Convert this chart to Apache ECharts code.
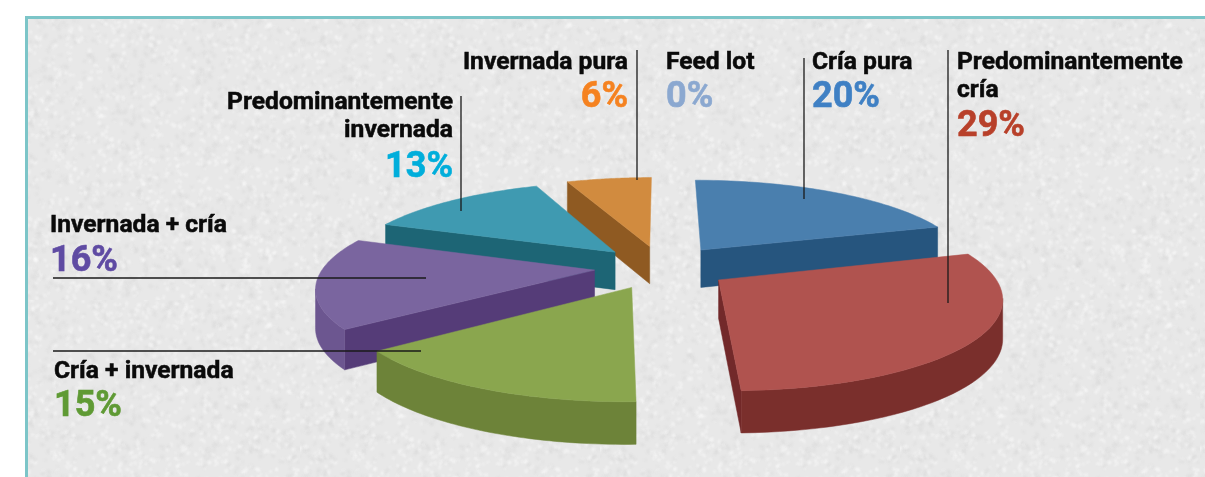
<!DOCTYPE html>
<html>
<head>
<meta charset="utf-8">
<title>Pie</title>
<script src="https://cdn.jsdelivr.net/npm/echarts@6/dist/echarts.min.js"></script>
<style>
html, body { margin: 0; padding: 0; background: #fff; overflow: hidden; }
#main { width: 1205px; height: 477px; }
</style>
</head>
<body>
<div id="main"></div>
<script>
var categories = ['Cría pura', 'Predominantemente\ncría', 'Cría + invernada', 'Invernada + cría', 'Predominantemente\ninvernada', 'Invernada pura', 'Feed lot'];
var shares = [20, 29, 15, 16, 13, 6, 0];

var topColors = ['#4a7fae', '#b0534f', '#8aa64e', '#7a659f', '#3f9ab1', '#d18b3f', '#8ba5cc'];
var rimColors = ['#2a5c86', '#7a2f2c', '#6d8339', '#6c5690', '#1f6b7d', '#8f5a22', '#8ba5cc'];
var sideColors = ['#26557e', '#72292a', '#6d8339', '#553c78', '#1d6575', '#8f5a22', '#8ba5cc'];
var textColors = ['#3f80c4', '#b8402a', '#5f9a34', '#5f4ba3', '#00aedb', '#f58220', '#8ba8d0'];

// posicion de cada rotulo: x, y de la primera linea, alineacion, y del porcentaje
var labelPos = [
	[812, 63, 'left', 98],
	[957, 63, 'left', 127],
	[54, 372, 'left', 407],
	[50, 226, 'left', 262],
	[453, 103, 'right', 168],
	[628, 63, 'right', 98],
	[666, 63, 'left', 98]
];
var leaderLines = [
	[637, 50, 637, 180],
	[804, 58, 804, 199],
	[948, 50, 948, 303],
	[461, 96, 461, 211],
	[53, 278, 426, 278],
	[53, 351, 421, 351]
];

// proyeccion de la torta
var centerX = 662, centerY = 267, scaleX = 271, scaleY = 87;
var persp = 0.17, explode = 0.25, depth = 38, arcSteps = 48;
var lineHeight = 28;

function project(x, z) {
	var s = 1 / (1 - persp * z);
	return [centerX + x * scaleX * s, centerY + z * scaleY * s, s];
}

function down(p) {
	return [p[0], p[1] + depth * Math.sqrt(p[2])];
}

function wallPoints(list) {
	var pts = [];
	for (var i = 0; i < list.length; i++) {
		pts.push([list[i][0], list[i][1]]);
	}
	for (var j = list.length - 1; j >= 0; j--) {
		pts.push(down(list[j]));
	}
	return pts;
}

function sliceAngles() {
	var total = 0, start = 0, res = [];
	for (var i = 0; i < shares.length; i++) {
		total += shares[i];
	}
	for (var k = 0; k < shares.length; k++) {
		var a = shares[k] / total * Math.PI * 2;
		res.push([start, start + a]);
		start += a;
	}
	return res;
}

var angles = sliceAngles();
// orden de pintado: de atras hacia adelante
var depthRank = angles.map(function(a, i) {
	return { i: i, z: -Math.cos((a[0] + a[1]) / 2) };
}).sort(function(p, q) {
	return p.z - q.z;
}).reduce(function(acc, item, pos) {
	acc[item.i] = pos;
	return acc;
}, {});

function renderSlice(params, api) {
	var idx = api.value(1);
	if (api.value(0) <= 0) {
		return { type: 'group', children: [] };
	}
	var a0 = angles[idx][0], a1 = angles[idx][1];
	var mid = (a0 + a1) / 2;
	var ox = explode * Math.sin(mid), oz = -explode * Math.cos(mid);
	var apex = project(ox, oz);
	var arc = [];
	for (var i = 0; i <= arcSteps; i++) {
		var t = a0 + (a1 - a0) * i / arcSteps;
		arc.push(project(ox + Math.sin(t), oz - Math.cos(t)));
	}
	var base = depthRank[idx] * 10 + 1;
	var children = [];

	function addWall(list, color) {
		children.push({
			type: 'polygon',
			shape: { points: wallPoints(list) },
			style: { fill: color, stroke: color, lineWidth: 0.5 },
			z2: base
		});
	}
	// solo se ven las caras cuyo borde va de derecha a izquierda
	if (arc[0][0] < apex[0] - 8) {
		addWall([apex, arc[0]], sideColors[idx]);
	}
	if (apex[0] < arc[arcSteps][0] - 8) {
		addWall([arc[arcSteps], apex], sideColors[idx]);
	}
	var rim = [];
	for (var k = 0; k < arcSteps; k++) {
		if (arc[k + 1][0] < arc[k][0]) {
			if (!rim.length) {
				rim.push(arc[k]);
			}
			rim.push(arc[k + 1]);
		}
	}
	if (rim.length) {
		addWall(rim, rimColors[idx]);
	}

	var top = [[apex[0], apex[1]]];
	for (var m = 0; m < arc.length; m++) {
		top.push([arc[m][0], arc[m][1]]);
	}
	children.push({
		type: 'polygon',
		shape: { points: top },
		style: { fill: topColors[idx], stroke: topColors[idx], lineWidth: 0.5 },
		z2: base + 1
	});
	return { type: 'group', children: children };
}

// textura del fondo
function noiseTile() {
	var size = 300;
	var c = document.createElement('canvas');
	c.width = size;
	c.height = size;
	var ctx = c.getContext('2d');
	ctx.fillStyle = '#e8e8e8';
	ctx.fillRect(0, 0, size, size);
	var seed = 12345;
	function next() {
		seed = (seed * 1103515245 + 12345) % 2147483648;
		return seed / 2147483648;
	}
	ctx.filter = 'blur(1px)';
	for (var i = 0; i < 2600; i++) {
		var x = next() * size, y = next() * size;
		ctx.fillStyle = next() > 0.45 ? 'rgba(250,250,250,0.6)' : 'rgba(216,216,216,0.55)';
		ctx.beginPath();
		ctx.ellipse(x, y, 1 + next() * 2, 0.8 + next() * 1.2, next() * 3.14, 0, Math.PI * 2);
		ctx.fill();
	}
	return c;
}

function buildGraphics() {
	var items = [{
		type: 'rect',
		shape: { x: 26.5, y: 17.5, width: 1300, height: 600 },
		style: { fill: { type: 'pattern', image: noiseTile(), repeat: 'repeat' }, stroke: '#7cc5c8', lineWidth: 3 },
		z: -10,
		silent: true
	}];
	for (var i = 0; i < leaderLines.length; i++) {
		var l = leaderLines[i];
		items.push({
			type: 'line',
			shape: { x1: l[0], y1: l[1], x2: l[2], y2: l[3] },
			style: { stroke: '#1a1a1a', lineWidth: 1.3 },
			z: 20
		});
	}
	for (var k = 0; k < categories.length; k++) {
		var p = labelPos[k];
		items.push({
			type: 'text',
			x: p[0],
			y: p[1] - lineHeight / 2,
			scaleX: 1.07,
			z: 21,
			style: {
				text: categories[k],
				fill: '#0a0a0a',
				stroke: '#0a0a0a',
				lineWidth: 0.5,
				font: 'bold 23px Roboto, sans-serif',
				align: p[2],
				verticalAlign: 'top',
				lineHeight: lineHeight
			}
		});
		items.push({
			type: 'text',
			x: p[0],
			y: p[3],
			z: 21,
			style: {
				text: shares[k] + '%',
				fill: textColors[k],
				stroke: textColors[k],
				lineWidth: 0.6,
				font: 'bold 36px Roboto, sans-serif',
				align: p[2],
				verticalAlign: 'middle'
			}
		});
	}
	return items;
}

var seriesData = shares.map(function(v, i) {
	return [v, i];
});

var myChart = echarts.init(document.getElementById('main'), null, { renderer: 'canvas' });
var option = {
	animation: false,
	backgroundColor: '#ffffff',
	graphic: { elements: buildGraphics() },
	series: [{
		type: 'custom',
		coordinateSystem: 'none',
		renderItem: renderSlice,
		data: seriesData,
		silent: true,
		z: 5
	}]
};
myChart.setOption(option);
</script>
</body>
</html>
